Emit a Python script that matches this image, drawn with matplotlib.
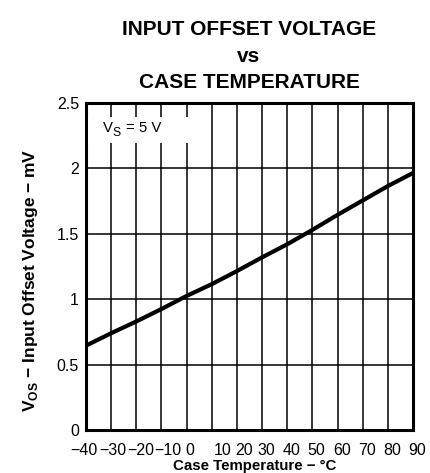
import matplotlib
matplotlib.use("Agg")
import matplotlib.pyplot as plt
from matplotlib.patches import Rectangle
from matplotlib.transforms import ScaledTranslation

plt.rcParams['font.family'] = ['Liberation Sans', 'DejaVu Sans']
plt.rcParams['mathtext.fontset'] = 'custom'
plt.rcParams['mathtext.rm'] = 'Liberation Sans'
plt.rcParams['mathtext.bf'] = 'Liberation Sans:bold'

# Offset voltage vs case temperature, VS = 5 V
temperature_c = [-40, -30, -20, -10, 0, 10, 20, 30, 40, 50, 60, 70, 80, 90]
offset_mv = [0.645, 0.74, 0.83, 0.925, 1.025, 1.115, 1.215, 1.32, 1.42, 1.53, 1.645, 1.755, 1.865, 1.965]

x_ticks = [-40, -30, -20, -10, 0, 10, 20, 30, 40, 50, 60, 70, 80, 90]
x_tick_labels = ["\u221240", "\u221230", "\u221220", "\u221210", "0", "10", "20", "30", "40", "50", "60", "70", "80", "90"]
y_ticks = [0, 0.5, 1, 1.5, 2, 2.5]
y_tick_labels = ["0", "0.5", "1", "1.5", "2", "2.5"]

W, H = 431, 473
fig = plt.figure(figsize=(W / 100, H / 100), dpi=100)


def fx(x):
    return x / W


def fy(y):
    return 1 - y / H


ax = fig.add_axes([fx(86), fy(430), (413 - 86) / W, (430 - 103) / H])

ax.plot(temperature_c, offset_mv, color="black", lw=3.0, solid_capstyle="butt", zorder=3)

ax.set_xlim(-40, 90)
ax.set_ylim(0, 2.5)
ax.set_xticks(x_ticks)
ax.set_xticklabels(x_tick_labels)
ax.set_yticks(y_ticks)
ax.set_yticklabels(y_tick_labels)
ax.tick_params(length=0, labelsize=11.5, pad=5)
ax.tick_params(axis="x", pad=9)
ax.grid(True, color="black", lw=1.1)
for s in ax.spines.values():
    s.set_linewidth(2.2)

# hand-set nudges of the temperature labels (points)
x_label_nudge = [-1.5, 1.5, 3.5, 4.5, 2.5, 8, 5, 3, 3, 3, 3, 3, 3, 3]
for lab, dx in zip(ax.get_xticklabels(), x_label_nudge):
    lab.set_transform(lab.get_transform() + ScaledTranslation(dx / 72, 0, fig.dpi_scale_trans))

# supply-voltage note on a white patch over the grid
fig.patches.append(Rectangle((fx(88), fy(143)), (205 - 88) / W, (143 - 117) / H,
                             transform=fig.transFigure, facecolor="white",
                             edgecolor="none", zorder=1))
fig.text(fx(103), fy(132), "V", fontsize=10.8, va="baseline", ha="left", zorder=2)
fig.text(fx(112.5), fy(135.5), "S", fontsize=8.8, va="baseline", ha="left", zorder=2)
fig.text(fx(126.5), fy(132), "= 5 V", fontsize=10.8, va="baseline", ha="left", zorder=2)

fig.text(fx(249), fy(35), "INPUT OFFSET VOLTAGE", ha="center", va="baseline",
         fontsize=15, fontweight="bold")
fig.text(fx(249), fy(62), "vs", ha="center", va="baseline",
         fontsize=15, fontweight="bold")
fig.text(fx(249), fy(88), "CASE TEMPERATURE", ha="center", va="baseline",
         fontsize=15, fontweight="bold")

fig.text(fx(31), fy(280), "V$_\\mathbf{OS}$ \u2212 Input Offset Voltage \u2212 mV",
         rotation=90, ha="center", va="center", fontsize=12.5, fontweight="bold")
fig.text(fx(255), fy(472.5), "Case Temperature \u2212 \u00b0C", ha="center", va="bottom",
         fontsize=10.8, fontweight="bold")

fig.savefig("out.png", dpi=100)
